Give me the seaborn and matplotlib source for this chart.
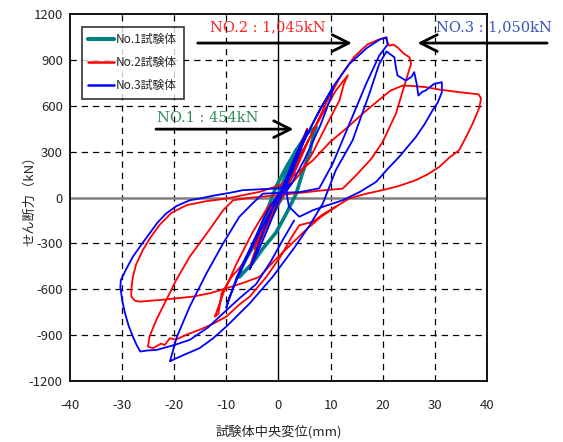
import matplotlib
matplotlib.use('Agg')
import matplotlib.pyplot as plt
import seaborn as sns
import pandas as pd

# No.1 specimen (teal) - displacement (mm), shear force (kN)
no1_x = [0, 1, 2.2, 1.8, 0.5, -0.5, -2.2, -1.8, -0.5, 0,
         1.5, 3, 4.5, 4.2, 2.5, 1, -0.5, -2.5, -4.5, -4.2, -2.5, -0.5,
         1, 3.4, 5.5, 7.2, 6.8, 5.9, 4.5, 3.4, 1.5, -0.5, -2.9, -5, -7.5,
         -7.2, -6.2, -4.5, -3.6, -2, -0.5, 1.5, 3.4]
no1_y = [0, 70, 150, 110, 20, -40, -150, -110, -10, 10,
         110, 210, 310, 270, 140, 20, -70, -200, -330, -290, -170, -20,
         110, 309, 420, 461, 420, 287, 150, 26, -105, -230, -330, -430, -520,
         -470, -400, -300, -213, -70, 69, 200, 309]

# No.2 specimen (red)
no2_x = [0, 2, 4, 5.5, 5, 3, 1, 0, -2, -4, -5.5, -5, -3, -1, 0,
         2, 5, 8, 11, 13.3, 12.5, 11.7, 9, 6.5, 4, 1, -2, -5, -8, -10.5, -12.2,
         -11.5, -10.9, -9, -7.3, -4, -1, 1,
         3, 6, 9, 12, 14.5, 17, 19, 20.5, 21.2, 22, 22.8, 24.1, 25.1, 25.4,
         24.4, 22.5, 19.9, 17.7, 15, 12.3, 8, 4, 0, -5, -8.7, -10.6, -13, -17,
         -19.6, -21.5, -23.4, -24.7, -25, -24, -22.5, -21.8, -20.8, -19.7, -17.5,
         -15.1, -12.5, -10, -7.5, -5.5, -2.3, 0.5, 2.5, 4, 6.6, 8.5, 10.4, 13.6,
         16.8, 19.9, 23, 26.3, 28.5, 30.8, 32.7, 34.6, 36, 37.2, 38.5, 38.8, 38.3,
         34.6, 31, 28.2, 25.5, 23.8, 21.5, 19.9, 16.5, 13.6, 9.8, 6.5, 3.4, 0.2,
         -3.6, -10, -14, -17.6, -20.5, -22.8, -24.5, -26, -27.3, -27.9, -28.2,
         -28.2, -27.5, -26.6, -22, -16.4, -13, -10, -6.5, -3.6, -1, 2, 5, 8, 11]
no2_y = [0, 160, 330, 450, 400, 200, 40, -20, -170, -330, -450, -400, -200, -30, 10,
         130, 330, 520, 700, 800, 740, 636, 460, 289, 150, 30, -60, -230, -430, -620, -780,
         -760, -626, -520, -453, -280, -100, 20,
         160, 390, 610, 800, 920, 1000, 1030, 1045, 993, 1000, 982, 939, 917, 874,
         765, 548, 360, 250, 150, 58, 45, 30, 15, 0, -18, -83, -200, -387,
         -540, -670, -800, -909, -975, -985, -955, -965, -920, -930, -895,
         -865, -825, -779, -700, -648, -518, -380, -260, -181, -159, -110, -72, -6,
         25, 48, 75, 113, 150, 200, 260, 309, 400, 483, 590, 650, 675,
         689, 705, 722, 730, 732, 700, 656, 560, 470, 360, 240, 156, 80,
         37, -7, -25, -50, -100, -180, -260, -344, -440, -518, -600,
         -648, -675, -681, -668, -648, -625, -594, -555, -518, -420, -320, -220, -130, -60]

# No.3 specimen (blue)
no3_x = [0, 2, 4, 5.5, 5, 3, 1, 0, -2, -4, -5.5, -5, -3, -1, 0,
         2, 5, 8, 10.5, 10, 8, 5, 2.5, 0, -2, -5, -8, -10, -9.5, -7, -4, -1, 1,
         4, 7.2, 10.4, 13.6, 17, 19.5, 20.7, 20.9, 19.3, 16.8, 13.6, 10.4, 7.8, 4, 0,
         -3, -5, -7.5, -10.6, -13.8, -17, -19.5, -20.8, -20.2, -17.5, -15.1, -12.5,
         -10, -7.5, -5.5, -1.1, 3, 6, 8.5, 11, 14.2, 17.4, 19.3, 20.7, 21.3, 22.2,
         22.5, 22.8, 24.4, 25.5, 26, 26.5, 26.8, 27.5, 28.2, 29.8, 31.3, 31.3, 30.5,
         29.5, 28, 26.3, 23.1, 21, 18.7, 15.5, 12.3, 9, 6.6, 4, 2, 1.5, 2.5, 0, -3,
         -6.8, -9.4, -12.5, -15.1, -17, -19.5, -21.5, -23.2, -24.7, -26.3, -27.9,
         -29.2, -30.2, -30.3, -29.9, -29.4, -28.7, -27.9, -27.2, -26.5, -25, -23.4,
         -20, -17, -13.5, -10.6, -7.5, -4.3, -1.5, 0.8, 3]
no3_y = [0, 170, 330, 440, 380, 200, 40, -30, -200, -360, -470, -420, -230, -60, 0,
         150, 380, 580, 720, 650, 470, 250, 90, 20, -80, -300, -520, -720, -660, -460, -250, -60, 60,
         309, 526, 722, 874, 980, 1035, 1048, 1000, 928, 744, 483, 222, 60, 35, 30,
         25, -40, -126, -300, -496, -713, -914, -1072, -1061, -1020, -985, -920,
         -844, -760, -692, -518, -330, -180, -39, 180, 374, 678, 874, 955, 940, 917,
         850, 798, 765, 790, 820, 740, 667, 690, 700, 743, 754, 689, 620,
         569, 480, 395, 265, 190, 102, 35, -18, -55, -83, -126, -60, 40, 90, 60, 55,
         48, 30, 12, -7, -18, -55, -104, -165, -235, -310, -387,
         -470, -540, -585, -680, -757, -840, -909, -963, -1007, -1000, -997,
         -965, -931, -850, -757, -660, -567, -420, -279, -150]

labels = ['No.1試験体', 'No.2試験体', 'No.3試験体']
colors = ['#008080', '#ff0000', '#0000ff']
widths = [2.6, 1.3, 1.3]

sns.set_style('white')
plt.rcParams['font.family'] = ['Noto Sans CJK JP', 'DejaVu Sans']
plt.rcParams['axes.unicode_minus'] = False

fig = plt.figure(figsize=(5.63, 4.42), dpi=100)
ax = fig.add_axes([0.1238, 0.138, 0.7417, 0.8303])

series = [(no1_x, no1_y), (no2_x, no2_y), (no3_x, no3_y)]
for (xs, ys), lab, col, lw in zip(series, labels, colors, widths):
    df = pd.DataFrame({'disp': xs, 'force': ys})
    sns.lineplot(data=df, x='disp', y='force', sort=False, estimator=None,
                 color=col, linewidth=lw, label=lab, ax=ax, zorder=3)

ax.set_xlim(-40, 40)
ax.set_ylim(-1200, 1200)
ax.set_xticks(range(-40, 41, 10))
ax.set_yticks(range(-1200, 1201, 300))
ax.tick_params(axis='both', length=0, labelsize=9.5)
ax.tick_params(axis='x', pad=13)
ax.tick_params(axis='y', pad=5)

# dashed grid, solid zero lines
for v in range(-30, 31, 10):
    if v != 0:
        ax.axvline(v, color='black', lw=0.9, ls=(0, (5, 4)), zorder=1)
for h in range(-900, 901, 300):
    if h != 0:
        ax.axhline(h, color='black', lw=0.9, ls=(0, (5, 4)), zorder=1)
ax.axvline(0, color='black', lw=1.0, zorder=1)
ax.axhline(0, color='#808080', lw=1.8, zorder=1)

for s in ax.spines.values():
    s.set_color('black')
    s.set_linewidth(1.3)

ax.set_xlabel('試験体中央変位(mm)', fontsize=9.5)
ax.set_ylabel('せん断力（kN）', fontsize=9.5)
ax.xaxis.set_label_coords(0.5, -0.12)
ax.yaxis.set_label_coords(-0.081, 0.5)

leg = ax.legend(loc='upper left', bbox_to_anchor=(0.029, 0.965), borderaxespad=0,
                fontsize=8.5, frameon=True, fancybox=False, handlelength=2.2,
                handletextpad=0.15, labelspacing=0.85, borderpad=0.55)
leg.get_frame().set_edgecolor('black')
leg.get_frame().set_linewidth(1.2)
for h, lw in zip(leg.get_lines(), [3.0, 1.8, 1.8]):
    h.set_linewidth(lw)

# peak annotations
arrow = dict(arrowstyle='->', lw=2.0, color='black', mutation_scale=30)
ax.annotate('', xy=(14.6, 1010), xytext=(-16.0, 1010), arrowprops=arrow, annotation_clip=False)
ax.annotate('', xy=(26.1, 1010), xytext=(52.0, 1010), arrowprops=arrow, annotation_clip=False)
ax.annotate('', xy=(3.4, 447), xytext=(-24.0, 447), arrowprops=arrow, annotation_clip=False)

serif = dict(family='DejaVu Serif', fontsize=10.5, va='center', ha='left', clip_on=False)
ax.text(-13.1, 1110, 'NO.2 : 1,045kN', color='#ff2020', **serif)
ax.text(30.2, 1110, 'NO.3 : 1,050kN', color='#3355bb', **serif)
ax.text(-23.3, 520, 'NO.1 : 454kN', color='#2e8b57', **serif)

fig.savefig('out.png', dpi=100)
